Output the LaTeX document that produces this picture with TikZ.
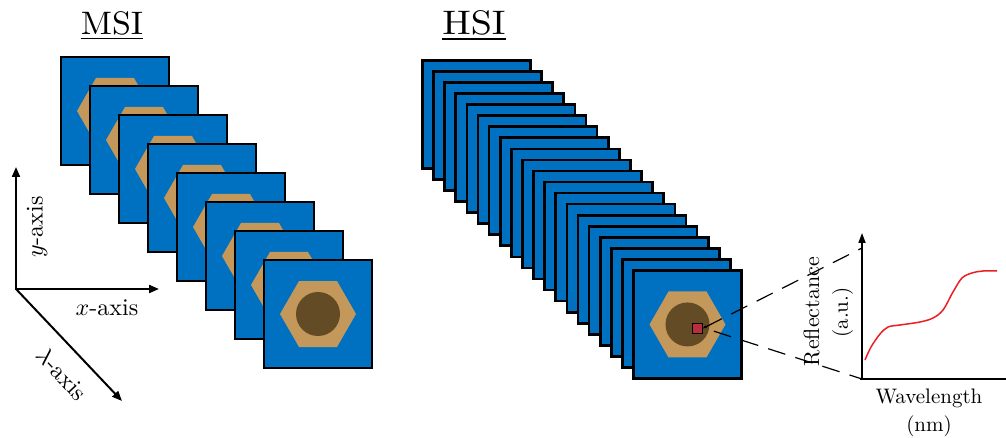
\documentclass[tikz,border=0pt]{standalone}
\usepackage{fontspec}
\usepackage{graphicx}
\usetikzlibrary{arrows.meta}
\definecolor{panelblue}{RGB}{0,112,192}
\definecolor{nuttan}{RGB}{196,152,90}
\definecolor{nutcore}{RGB}{99,75,38}
\definecolor{pixelred}{RGB}{185,45,60}
\definecolor{curvered}{RGB}{235,30,35}
% 10pt design size, enlarged
\newcommand\bigtxt[2]{\scalebox{#1}{\fontsize{10}{12}\selectfont #2}}

\begin{document}
\begin{tikzpicture}[x=1pt,y=-1pt,
  panel/.style={draw=black, line width=2.7pt, fill=panelblue,
    minimum width=108pt, minimum height=108pt, inner sep=0pt, outer sep=0pt},
  title/.style={anchor=base, inner sep=0pt},
  lbl/.style={inner sep=0pt},
  axisline/.style={line width=2pt},
  axtip/.tip={Triangle[length=10pt,width=8pt]},
  zoomline/.style={line width=1.2pt, dash pattern=on 18pt off 10.5pt},
  pixel/.style={draw=black, line width=1pt, fill=pixelred,
    minimum size=10pt, inner sep=0pt, outer sep=0pt}]

% canvas
\fill[white] (0,0) rectangle (1006,438);
\useasboundingbox (0,0) rectangle (1006,438);

% hexagonal nut seen from above, centred on a panel
\newcommand\nutat[1]{%
  \begin{scope}[shift={(#1.center)}]
    \fill[nuttan] (-38,0) -- (-19,-33) -- (19,-33) -- (38,0) -- (19,33) -- (-19,33) -- cycle;
    \fill[nutcore] (0,0) circle[radius=22];
  \end{scope}}

% titles, underlined
\node[title] (msititle) at (112,34.5) {\scalebox{3.4}[3.25]{MSI}};
\node[title] (hsititle) at (474,35) {\scalebox{3.8}[3.4]{HSI}};
\draw[line width=1.6pt] ([yshift=-4pt]msititle.base west) -- ([yshift=-4pt]msititle.base east);
\draw[line width=1.6pt] ([yshift=-4pt]hsititle.base west) -- ([yshift=-4pt]hsititle.base east);

% multispectral stack: 8 bands
\foreach \i in {0,...,7} {
  \node[panel] (msi\i) at ({115+29*\i},{111+29*\i}) {};
  \nutat{msi\i}
}

% hyperspectral stack: 20 bands
\foreach \i in {0,...,19} {
  \node[panel] (hsi\i) at ({476.5+11.105*\i},{114.5+11.05*\i}) {};
}
\nutat{hsi19}
\node[pixel] (px) at (697.5,328.5) {};

% coordinate axes
\coordinate (o) at (16,289);
\coordinate (ya) at (16,167);
\coordinate (xa) at (159,289);
\coordinate (la) at (122,401);
\draw[axisline, axtip-axtip] (ya) -- (o) -- (xa);
\draw[axisline, -axtip] (o) -- (la);
\node[lbl, rotate=90] (ylab) at (37,227) {\bigtxt{2.4}{$y$-axis}};
\node[lbl] (xlab) at (107,308) {\bigtxt{2.4}{$x$-axis}};
\node[lbl, rotate=-47] (llab) at (62,374) {\bigtxt{2.4}{$\lambda$-axis}};

% reflectance spectrum
\coordinate (gO) at (862,379);
\coordinate (gY) at (862,233);
\coordinate (gX) at (1006,379);
\coordinate (gT) at (862,248);
\draw[line width=1.6pt] ([xshift=-2pt]gO) -- (gX);
\draw[line width=1.6pt, -{Triangle[length=10pt,width=7pt]}] (gO) -- (gY);
\draw[curvered, line width=1.5pt] plot[smooth, tension=0.55] coordinates {
  (865,360) (871,347) (880,334) (888,327) (900,325) (920,322) (933,318)
  (943,310) (953,292) (962,278) (972,273) (983,271) (997,271)};
\node[lbl, rotate=90] (refl) at (811.5,311.5) {\bigtxt{2.2}{Reflectance}};
\node[lbl, rotate=90] (au) at (842.5,312.5) {\bigtxt{2.1}{(a.u.)}};
\node[lbl] (wl) at (929,398) {\bigtxt{2.1}{Wavelength}};
\node[lbl] (nm) at (929,426) {\bigtxt{2.1}{(nm)}};

% zoom from the selected pixel to the spectrum
\draw[zoomline, {Latex[length=4pt,width=3.5pt]}-] (px.east) -- (gT);
\draw[zoomline, shorten <=12pt] ([yshift=1pt]px.east) -- (gO);
\end{tikzpicture}
\end{document}
